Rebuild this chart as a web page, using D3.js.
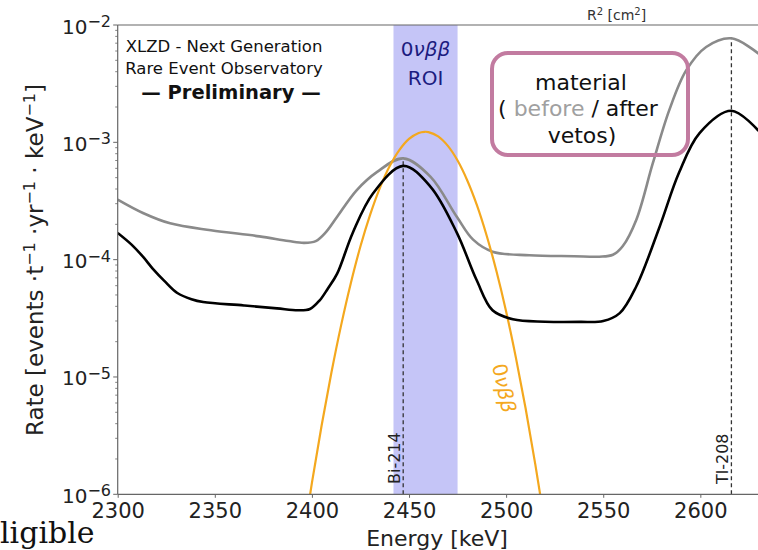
<!DOCTYPE html>
<html>
<head>
<meta charset="utf-8">
<script src="https://cdn.jsdelivr.net/npm/d3@7"></script>
<style>
  html, body { margin: 0; padding: 0; background: #fff; }
  svg { display: block; }
</style>
</head>
<body>
<svg id="chart" width="758" height="550" font-family="DejaVu Sans, sans-serif"></svg>
<script>
// Material background, before vetos (grey)
const beforeEnergy = [2300, 2313, 2327, 2348, 2373, 2388, 2396, 2402, 2407, 2413, 2423, 2433.6, 2447, 2461, 2474.6, 2483, 2493, 2512, 2535, 2548, 2555, 2560, 2567, 2575.5, 2584, 2592.7, 2603, 2616, 2630];
const beforeRate   = [3.25e-4, 2.5e-4, 2.04e-4, 1.78e-4, 1.58e-4, 1.44e-4, 1.39e-4, 1.44e-4, 1.7e-4, 2.32e-4, 3.9e-4, 5.6e-4, 7.3e-4, 5.1e-4, 2.32e-4, 1.48e-4, 1.17e-4, 1.09e-4, 1.07e-4, 1.06e-4, 1.1e-4, 1.3e-4, 2.18e-4, 6.6e-4, 1.88e-3, 4.1e-3, 6.5e-3, 7.7e-3, 5.7e-3];

// Material background, after vetos (black)
const afterEnergy = [2300, 2307, 2313, 2318, 2324, 2330.7, 2338, 2344, 2365, 2382, 2393, 2399, 2404, 2408, 2413, 2421, 2431.6, 2447, 2461, 2474.6, 2484.8, 2493, 2503.5, 2520, 2538, 2550, 2558.5, 2567, 2579, 2589, 2599.6, 2616, 2630];
const afterRate   = [1.69e-4, 1.35e-4, 1.06e-4, 8.4e-5, 6.6e-5, 5.2e-5, 4.6e-5, 4.35e-5, 4.07e-5, 3.84e-5, 3.7e-5, 3.8e-5, 4.5e-5, 5.6e-5, 7.6e-5, 1.69e-4, 3.7e-4, 6.3e-4, 4.2e-4, 1.7e-4, 6.7e-5, 3.7e-5, 3.1e-5, 2.96e-5, 2.95e-5, 3.0e-5, 3.5e-5, 5.9e-5, 1.9e-4, 5.5e-4, 1.2e-3, 1.86e-3, 1.25e-3];

// 0vbb signal peak (orange)
const signalEnergy = [2395, 2400, 2405, 2410, 2415, 2420, 2425, 2430, 2435, 2440, 2445, 2450, 2455, 2458, 2460, 2465, 2470, 2475, 2480, 2485, 2490, 2495, 2500, 2505, 2510, 2515, 2520];
const signalRate   = [3.6e-7, 1.25e-6, 3.86e-6, 1.08e-5, 2.74e-5, 6.27e-5, 1.30e-4, 2.42e-4, 4.09e-4, 6.24e-4, 8.59e-4, 1.07e-3, 1.203e-3, 1.23e-3, 1.223e-3, 1.123e-3, 9.32e-4, 6.99e-4, 4.73e-4, 2.90e-4, 1.60e-4, 8.0e-5, 3.62e-5, 1.47e-5, 5.44e-6, 1.81e-6, 5.45e-7];

// Region of interest around Q_bb
const roiRange = [2442, 2475];

// Gamma lines
const lineNames   = ["Bi-214", "Tl-208"];
const lineEnergy  = [2447, 2616];
const lineTopRate = [7.3e-4, 7.7e-3];

// Axes
const xTickValues = [2300, 2350, 2400, 2450, 2500, 2550, 2600];
const yTickExponents = [-6, -5, -4, -3, -2];

const svg = d3.select("#chart");
const W = 758, H = 550;
const plot = { left: 117.7, top: 25, bottom: 494.3, right: 758.6 };

svg.append("rect").attr("width", W).attr("height", H).attr("fill", "#fff");

const x = d3.scaleLinear().domain([2300, 2630]).range([plot.left, plot.right]);
const y = d3.scaleLog().domain([1e-6, 1e-2]).range([plot.bottom, plot.top]);

svg.append("defs").append("clipPath").attr("id", "plotClip")
  .append("rect")
  .attr("x", plot.left).attr("y", plot.top)
  .attr("width", plot.right - plot.left).attr("height", plot.bottom - plot.top);

const area = svg.append("g").attr("clip-path", "url(#plotClip)");

// ROI band
area.append("rect")
  .attr("x", x(roiRange[0])).attr("y", plot.top)
  .attr("width", x(roiRange[1]) - x(roiRange[0]))
  .attr("height", plot.bottom - plot.top)
  .attr("fill", "#c5c5f7");

// Dashed gamma lines
lineEnergy.forEach((e, i) => {
  area.append("line")
    .attr("x1", x(e)).attr("x2", x(e))
    .attr("y1", y(1e-6)).attr("y2", y(lineTopRate[i]))
    .attr("stroke", "#333").attr("stroke-width", 1.3)
    .attr("stroke-dasharray", "4,3");
});

const lineGen = d3.line()
  .x(d => x(d[0])).y(d => y(d[1]))
  .curve(d3.curveCatmullRom.alpha(0.5));

const zip = (a, b) => a.map((v, i) => [v, b[i]]);

area.append("path").datum(zip(beforeEnergy, beforeRate))
  .attr("d", lineGen).attr("fill", "none")
  .attr("stroke", "#8a8a8a").attr("stroke-width", 2.6);

area.append("path").datum(zip(signalEnergy, signalRate))
  .attr("d", lineGen).attr("fill", "none")
  .attr("stroke", "#f4a81e").attr("stroke-width", 2.2);

area.append("path").datum(zip(afterEnergy, afterRate))
  .attr("d", lineGen).attr("fill", "none")
  .attr("stroke", "#000").attr("stroke-width", 2.6);

// Spines
const spine = "#666";
svg.append("line").attr("x1", plot.left).attr("x2", W).attr("y1", plot.top).attr("y2", plot.top)
  .attr("stroke", spine).attr("stroke-width", 1.2);
svg.append("line").attr("x1", plot.left).attr("x2", plot.left).attr("y1", plot.top).attr("y2", plot.bottom)
  .attr("stroke", spine).attr("stroke-width", 1.2);
svg.append("line").attr("x1", plot.left).attr("x2", W).attr("y1", plot.bottom).attr("y2", plot.bottom)
  .attr("stroke", spine).attr("stroke-width", 1.2);

// X axis ticks and labels
const xAxis = d3.axisBottom(x).tickValues(xTickValues).tickSize(3.5).tickPadding(6).tickFormat(d3.format("d"));
const gx = svg.append("g").attr("transform", `translate(0,${plot.bottom})`).call(xAxis);
gx.attr("font-family", null).attr("font-size", null);
gx.select(".domain").remove();
gx.selectAll(".tick line").attr("stroke", spine);
gx.selectAll(".tick text")
  .attr("font-size", 21).attr("fill", "#222")
  .attr("dy", null).attr("y", 24);

// Y axis: major and minor log ticks
const minorTicks = [];
for (let e = -6; e < -2; e++) for (let m = 2; m <= 9; m++) minorTicks.push(m * Math.pow(10, e));
const gy = svg.append("g");
gy.selectAll("line.minor").data(minorTicks).join("line")
  .attr("x1", plot.left - 2.5).attr("x2", plot.left)
  .attr("y1", d => y(d)).attr("y2", d => y(d))
  .attr("stroke", spine).attr("stroke-width", 0.8);
gy.selectAll("line.major").data(yTickExponents).join("line")
  .attr("x1", plot.left - 4.5).attr("x2", plot.left)
  .attr("y1", d => y(Math.pow(10, d))).attr("y2", d => y(Math.pow(10, d)))
  .attr("stroke", spine).attr("stroke-width", 1);
const yl = gy.selectAll("text.ylab").data(yTickExponents).join("text")
  .attr("text-anchor", "end")
  .attr("x", 111)
  .attr("y", d => y(Math.pow(10, d)) + 8.5)
  .attr("fill", "#222");
yl.append("tspan").attr("font-size", 20).text("10");
yl.append("tspan").attr("font-size", 16).attr("dy", -6.5).text(d => "\u2212" + Math.abs(d));

// Axis titles
svg.append("text")
  .attr("x", 437).attr("y", 546)
  .attr("text-anchor", "middle").attr("font-size", 22).attr("fill", "#222")
  .text("Energy [keV]");

const yt = svg.append("text")
  .attr("transform", "translate(43,260) rotate(-90)")
  .attr("text-anchor", "middle").attr("font-size", 23).attr("fill", "#222");
const supParts = [["Rate [events \u00b7t", "\u22121"], [" \u00b7yr", "\u22121"], [" \u00b7 keV", "\u22121"], ["]", null]];
supParts.forEach(([base, sup], i) => {
  yt.append("tspan").attr("dy", i === 0 ? 0 : 8).text(base);
  if (sup) yt.append("tspan").attr("font-size", 16).attr("dy", -8).text(sup);
});

// Header text
const head = svg.append("g").attr("fill", "#111").attr("text-anchor", "middle");
head.append("text").attr("x", 224).attr("y", 52).attr("font-size", 16.5).text("XLZD - Next Generation");
head.append("text").attr("x", 224).attr("y", 74).attr("font-size", 16.5).text("Rare Event Observatory");
head.append("text").attr("x", 231).attr("y", 99).attr("font-size", 19.5).attr("font-weight", "bold")
  .text("\u2014 Preliminary \u2014");

// ROI label
const roiCx = (x(roiRange[0]) + x(roiRange[1])) / 2;
const roiT = svg.append("text").attr("x", roiCx).attr("y", 56)
  .attr("text-anchor", "middle").attr("font-size", 20).attr("fill", "#1c1c80");
roiT.append("tspan").text("0");
roiT.append("tspan").attr("font-style", "italic").text("\u03bd\u03b2\u03b2");
svg.append("text").attr("x", roiCx).attr("y", 85)
  .attr("text-anchor", "middle").attr("font-size", 20).attr("fill", "#1c1c80").text("ROI");

// Gamma line labels
lineNames.forEach((n, i) => {
  svg.append("text")
    .attr("transform", `translate(${x(lineEnergy[i]) - 3},484) rotate(-90)`)
    .attr("font-size", 16).attr("fill", "#222").text(n);
});

// Signal label along the orange curve
const sigT = svg.append("text")
  .attr("transform", "translate(504,388) rotate(78)")
  .attr("text-anchor", "middle").attr("dy", "0.35em")
  .attr("font-size", 20).attr("fill", "#f4a81e");
sigT.append("tspan").text("0");
sigT.append("tspan").attr("font-style", "italic").text("\u03bd\u03b2\u03b2");

// Legend box for material curves
svg.append("rect")
  .attr("x", 492).attr("y", 53).attr("width", 196).attr("height", 102).attr("rx", 16)
  .attr("fill", "none").attr("stroke", "#c27ba0").attr("stroke-width", 4);
svg.append("text").attr("x", 581).attr("y", 90).attr("text-anchor", "middle")
  .attr("font-size", 22).attr("fill", "#111").text("material");
const l2 = svg.append("text").attr("x", 578).attr("y", 116).attr("text-anchor", "middle")
  .attr("font-size", 22).attr("fill", "#111");
l2.append("tspan").text("( ");
l2.append("tspan").attr("fill", "#a0a0a0").text("before");
l2.append("tspan").text(" / after");
svg.append("text").attr("x", 582).attr("y", 143).attr("text-anchor", "middle")
  .attr("font-size", 22).attr("fill", "#111").text("vetos)");

// Neighbouring slide content
const r2 = svg.append("text").attr("x", 587).attr("y", 20).attr("font-size", 14).attr("fill", "#333");
r2.append("tspan").text("R");
r2.append("tspan").attr("font-size", 10).attr("dy", -5).text("2");
r2.append("tspan").attr("dy", 5).text(" [cm");
r2.append("tspan").attr("font-size", 10).attr("dy", -5).text("2");
r2.append("tspan").attr("dy", 5).text("]");

svg.append("text").attr("x", 0).attr("y", 543)
  .attr("font-family", "DejaVu Serif, serif")
  .attr("font-size", 30).attr("fill", "#111").text("ligible");
</script>
</body>
</html>
